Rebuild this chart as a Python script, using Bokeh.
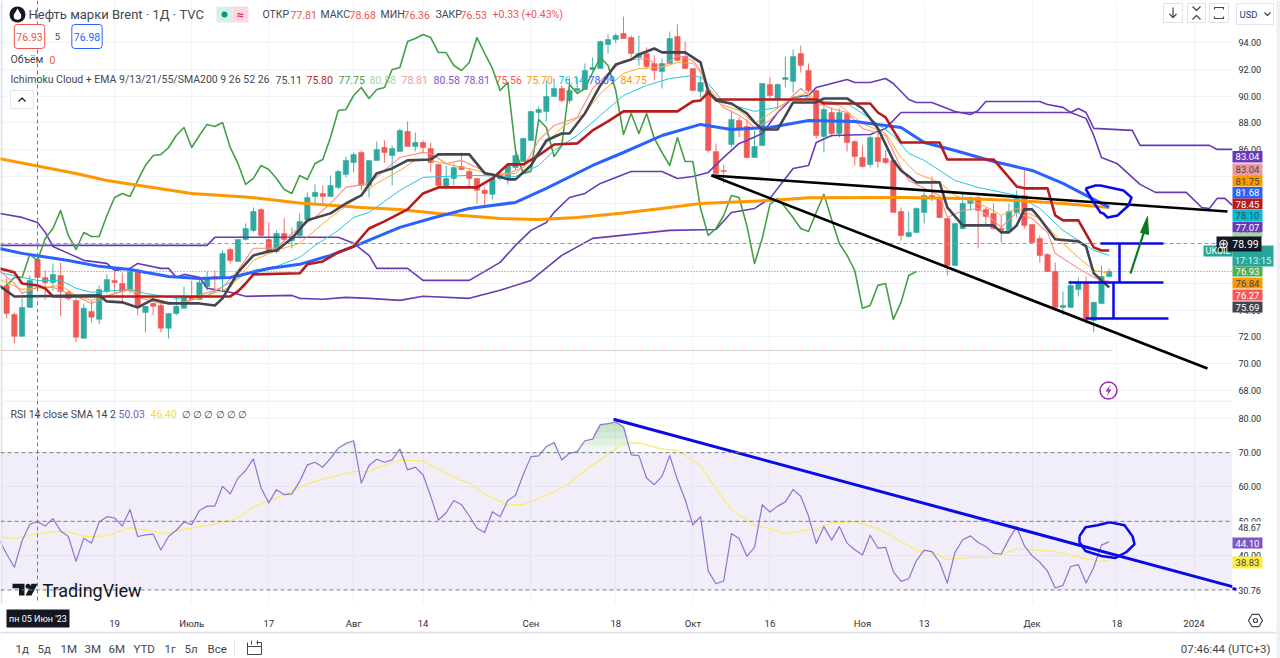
import numpy as np
from bokeh.plotting import figure
from bokeh.layouts import column
from bokeh.models import Range1d, FixedTicker, NumeralTickFormatter, Label, Span
from bokeh.embed import file_html
from bokeh.resources import INLINE

# ---------- candles (first bar is index -4, index 0 = 05 Jun 2023) ----------
opens = [75.84,73.68,72.04,74.2,77.79,76.44,76.06,76.59,75.31,74.72,71.89,73.9,73.31,75.39,76.21,75.99,75.46,76.89,73.83,74.5,74.35,72.64,73.75,74.13,75.02,74.79,75.76,76.51,76.44,78.53,77.64,79.28,79.95,81.52,79.28,78.38,79.73,79.2,79.58,80.78,82.5,82.72,82.5,83.17,84.14,85.03,85.78,83.32,85.18,86.15,85.56,85.86,87.35,86.23,86.53,86.08,84.88,83.24,83.84,84.73,84.36,83.84,82.95,82.65,83.84,83.76,84.66,85.11,86.68,88.77,88.84,89.96,90.56,89.67,90.41,90.49,91.98,92.06,93.85,94.22,94.67,94.37,92.88,93.18,92.43,91.83,92.43,94.45,92.95,92.06,90.34,90.41,85.86,84.44,86.38,88.17,87.72,85.41,86.3,90.86,89.82,91.24,91.09,93.18,91.91,90.41,86.98,88.77,87.2,88.7,86.6,85.41,84.88,86.9,85.33,85.18,81.37,79.5,79.8,81.3,82.57,82.42,80.85,77.34,80.1,81.97,82.42,81.52,81.22,80.1,79.95,81.3,82.57,80.4,79.35,78.16,76.89,74.2,74.2,75.54,75.99,73.23,74.5,76.51]
highs = [76.36,73.83,74.87,76.59,77.94,76.96,77.49,77.56,75.46,74.87,74.5,74.72,75.84,76.66,76.89,76.81,77.11,77.11,74.28,74.58,74.5,73.75,74.94,75.76,76.21,76.29,76.89,76.96,78.46,78.69,79.28,80.48,81.67,81.6,80.56,79.95,80.85,80.18,81.22,82.8,83.39,83.32,84.06,84.51,85.48,85.78,85.93,85.18,86.6,86.68,86.3,87.57,88.1,87.27,86.68,86.53,84.96,84.81,84.96,85.78,84.58,83.84,83.17,83.91,84.36,84.96,85.93,86.9,88.92,89.22,91.16,91.31,90.79,91.38,91.38,92.43,92.88,94.15,94.6,94.67,95.94,94.52,94.52,93.63,93.03,92.81,94.82,95.35,94.07,92.06,91.53,90.41,86.45,84.88,88.92,88.4,88.25,87.42,90.94,91.38,90.94,92.95,93.48,93.78,92.43,90.49,89.22,89.14,89.07,88.7,86.68,86.3,87.05,87.2,85.93,85.18,81.67,81.37,81.67,82.8,83.99,82.57,80.85,80.48,82.8,82.5,82.5,81.67,81.97,81.07,81.97,82.95,84.44,80.4,79.58,78.24,77.56,75.39,76.21,76.44,76.51,74.58,77.34,77.11]
lows = [73.38,71.52,72.04,74.2,75.76,74.79,75.46,73.53,74.72,71.59,71.89,73.09,72.94,75.24,75.31,74.64,75.24,73.61,72.34,73.61,72.34,71.89,73.61,74.13,74.72,74.79,75.46,75.31,75.31,77.49,77.64,79.2,79.8,79.43,78.31,78.24,79.05,78.61,79.35,80.78,81.97,81.97,82.5,83.02,83.91,84.29,82.95,82.42,85.18,85.03,83.32,85.86,86.23,85.86,85.71,84.29,83.32,83.24,83.32,84.44,83.24,81.97,81.67,82.27,83.69,83.39,84.44,85.11,86.68,88.17,88.1,89.96,89.52,89.44,90.19,90.49,91.91,92.06,93.18,93.93,94.3,92.88,92.28,92.06,91.16,90.56,92.43,92.66,92.06,90.41,89.89,85.78,83.91,83.47,86.15,86.9,85.33,85.41,86.3,89.82,89.14,90.64,90.26,91.76,90.26,86.83,85.78,86.9,86.9,85.86,84.81,84.66,84.66,84.66,84.88,81.3,79.2,79.43,79.8,80.48,82.12,80.85,76.59,77.34,80.03,81.45,78.61,80.33,80.03,79.05,79.95,80.92,80.1,78.98,77.56,76.89,74.2,73.61,74.2,75.02,73.01,72.34,74.5,76.44]
closes = [73.75,72.04,74.2,76.21,76.44,76.06,76.66,75.39,74.87,71.97,74.13,73.46,75.54,76.29,76.06,75.39,76.89,74.2,74.28,74.28,72.64,73.75,74.28,75.02,74.79,76.06,76.44,76.44,78.24,77.71,79.28,80.1,81.37,79.58,78.38,79.73,79.28,79.43,80.63,82.42,82.8,82.5,83.32,84.36,85.18,85.63,83.32,85.18,86.0,85.78,86.08,87.42,86.23,86.53,86.15,85.03,83.32,83.84,84.66,84.51,83.84,82.95,82.72,83.84,84.06,84.81,85.56,86.83,88.84,88.99,89.96,90.56,89.67,90.41,90.56,91.91,92.13,94.07,94.22,94.52,94.3,93.18,93.18,92.21,91.91,92.43,94.3,92.66,92.06,90.41,91.01,85.93,84.21,84.36,88.25,87.57,85.41,86.23,90.94,90.04,90.86,91.38,92.95,92.28,90.41,87.05,88.99,87.2,88.77,86.53,85.48,84.73,86.9,85.11,85.03,81.3,79.58,79.8,81.6,82.57,82.42,80.92,77.34,80.48,81.97,82.42,81.45,81.0,80.1,79.95,81.37,82.57,80.33,79.05,78.09,76.89,74.2,74.35,75.84,75.99,73.38,74.58,76.51,76.89]

# ---------- Ichimoku and moving averages: (bar index, price) ----------
tenkan_idx = [-5,-3,8,9,11,13,15,17,21,23,24,25,26,28,30,31,33,35,38,40,42,44,46,48,51,52,56,58,59,61,62,64,66,68,69,71,73,75,77,78,80,81,84,86,87,88,90,92,93,94,96,98,101,102,105,107,109,111,112,114,117,118,120,124,125,126,127,128,129,130,132,135,136,137,138,139]
tenkan = [75.85,75.02,75.1,74.65,74.58,74.2,74.8,74.5,74.5,74.35,74.88,75.85,76.82,78.09,78.39,78.46,79.36,80.71,81.23,81.97,82.57,84.22,84.59,85.19,85.26,85.64,85.64,84.22,84.14,83.77,83.77,84.81,86.68,87.2,87.2,88.7,90.79,92.36,92.73,93.11,93.55,93.26,93.26,92.51,90.34,89.67,89.44,88.7,88.03,87.5,87.5,89.52,89.52,89.82,89.82,89.07,87.58,85.19,84.44,83.55,83.55,81.68,80.33,80.33,79.81,79.81,80.33,81.53,81.53,80.85,79.29,79.14,78.76,76.75,76.22,75.7]
kijun_idx = [-5,-3,-2,-1,0,1,2,25,26,27,28,34,35,37,39,41,43,45,47,48,50,52,57,59,61,63,65,67,70,72,74,76,83,85,86,87,88,101,102,108,109,110,111,112,117,118,124,125,127,128,131,132,133,135,137,138,139]
kijun = [77.12,76.82,75.99,75.92,75.85,75.62,75.02,75.02,75.4,75.99,76.67,76.75,77.42,77.64,78.31,78.76,80.1,80.63,81.23,81.53,82.72,83.17,83.17,83.84,84.89,84.89,85.56,86.38,86.46,87.43,88.1,88.85,88.85,89.6,89.67,90.27,89.74,89.74,89.44,89.44,88.77,88.4,87.43,86.53,86.53,85.26,85.26,84.59,83.24,83.1,83.1,81.08,80.71,80.71,78.69,78.45,78.45]
chikou_start = -4
chikou = [75.85,76.44,76.44,78.16,77.71,79.35,80.1,81.45,79.58,78.53,79.8,79.5,79.5,81.07,82.42,82.72,82.5,83.69,84.81,85.56,85.63,86.15,87.05,87.65,86.15,87.05,87.88,87.72,88.02,86.15,84.96,83.39,83.84,84.81,84.51,83.84,83.02,82.72,84.06,83.76,84.96,85.26,86.9,88.92,88.99,90.04,90.64,89.82,90.49,90.64,91.98,92.13,94.07,94.3,94.6,94.37,93.25,93.25,92.28,91.91,92.51,94.37,93.18,92.06,90.41,91.01,85.93,84.21,84.36,88.25,87.65,85.48,86.3,90.86,90.19,90.56,91.76,92.88,92.28,90.41,87.13,88.7,87.2,88.7,86.83,85.78,84.81,86.9,85.11,85.11,81.6,79.58,80.1,81.07,82.57,82.42,80.33,77.49,79.35,81.9,82.35,81.67,80.92,80.1,79.88,81.3,82.65,80.78,78.98,78.09,76.96,74.13,74.35,75.85,75.99,73.31,74.58,76.59,76.89]
senkou_a_idx = [-5,-2,0,1,2,4,6,9,10,12,13,16,17,18,19,21,22,25,27,33,34,37,40,43,47,50,56,60,64,68,72,82,88,90,93,95,98,100,101,103,108,110,112,134,136,137,138,140,143,145,149,151,152,153,154,155]
senkou_a = [81.23,80.93,80.55,79.81,78.76,78.24,77.72,77.49,76.97,77.12,77.49,77.12,77.12,76.45,76.67,76.45,75.63,75.33,75.03,75.1,74.88,74.81,74.95,74.88,74.73,75.03,74.88,75.48,76.22,78.09,79.36,79.96,80.03,81.3,81.6,82.35,84.59,84.81,86.53,87.05,87.13,87.58,88.77,88.77,88.33,87.05,85.41,84.96,83.4,82.8,82.8,81.67,81.6,82.35,82.35,81.83]
senkou_b_idx = [-5,22,23,39,41,43,44,48,50,56,60,62,64,66,67,69,71,73,75,77,81,83,85,87,89,91,92,94,96,98,100,101,103,105,106,108,110,111,113,114,116,119,121,122,123,130,131,133,134,135,136,137,142,143,152,153,155]
senkou_b = [78.84,78.84,79.44,79.44,78.99,78.09,77.12,77.12,76.22,76.22,77.57,78.84,79.96,80.55,81.3,82.42,82.72,83.47,83.92,84.36,84.36,83.84,83.99,84.29,85.41,86.46,86.68,87.2,88.77,89.89,90.04,90.64,90.94,91.24,91.01,91.01,91.31,90.94,89.74,89.52,89.52,88.85,88.62,88.92,89.59,89.59,89.37,89.15,88.77,89.07,88.77,87.58,87.43,86.31,86.31,86.01,86.01]
ema9_idx = [-5,-3,-2,0,2,3,5,7,10,12,13,16,19,21,24,26,28,31,33,36,38,40,43,45,47,50,51,53,55,57,59,61,63,65,67,70,72,74,76,79,81,83,85,86,87,89,91,92,93,95,98,99,101,103,105,107,110,112,113,115,117,118,120,122,124,125,127,129,131,132,135,137,138,139]
ema9 = [76.97,76.0,75.25,75.7,75.7,75.48,75.03,74.5,75.25,75.55,74.95,74.5,74.5,75.1,75.7,76.97,78.62,78.62,79.74,80.93,81.97,83.17,83.47,84.44,85.41,85.79,85.71,84.96,85.19,84.66,84.07,84.22,84.66,86.68,87.8,88.4,90.57,91.69,92.66,92.81,92.14,93.03,92.66,91.91,90.27,89.15,88.55,88.18,87.58,88.18,90.04,90.57,89.52,89.07,88.77,87.58,87.05,84.66,83.69,83.1,82.57,80.93,81.45,81.6,80.71,80.18,81.3,80.85,79.81,78.24,77.12,76.45,76.22,76.15]
ema13_idx = [-5,-2,1,3,5,7,10,12,14,18,21,25,28,31,34,36,38,41,44,47,49,51,54,57,59,62,63,66,68,71,73,76,78,81,83,85,86,87,89,91,93,95,98,100,101,104,107,110,112,114,117,119,122,124,125,127,130,133,135,137,139]
ema13 = [76.3,75.55,75.7,75.85,75.1,74.73,75.25,75.55,74.95,74.5,74.88,75.7,77.72,78.47,78.99,79.96,80.93,82.2,83.47,84.44,85.19,85.19,84.81,84.44,84.07,84.22,84.66,86.46,87.65,88.7,90.19,91.69,92.06,92.14,92.51,92.44,91.76,90.64,89.3,88.92,87.95,88.7,89.89,90.27,89.67,89.3,87.95,87.2,85.41,84.22,83.55,82.57,81.97,81.45,81.08,81.6,80.85,78.99,77.94,76.97,76.75]
ema21_idx = [-5,-2,0,3,5,7,12,14,18,22,25,28,31,34,36,39,41,43,47,50,56,62,65,67,70,73,76,79,82,85,86,87,89,93,96,99,101,105,108,111,113,115,119,122,127,130,133,135,137,139]
ema21 = [76.82,76.45,76.22,76.22,75.63,75.33,75.55,75.25,74.88,75.1,76.07,76.97,77.27,77.94,78.84,79.96,80.93,81.3,82.95,83.92,84.07,83.99,84.81,85.93,87.05,88.55,90.04,90.79,91.31,91.54,91.39,90.94,89.52,88.85,89.15,90.04,89.67,89.44,88.33,87.05,85.71,85.19,83.69,83.17,82.57,81.6,79.96,79.21,78.47,78.09]
ema55_idx = [-5,-2,4,8,12,17,21,25,30,34,38,42,47,51,56,62,66,72,76,81,86,90,95,100,106,112,115,119,124,129,133,136,139]
ema55 = [78.61,78.24,77.71,77.27,77.04,76.51,76.36,76.44,77.11,77.42,78.09,78.98,80.18,80.85,81.6,82.05,83.1,84.81,85.78,87.05,87.88,87.5,87.65,88.17,88.1,87.65,86.53,85.93,85.11,84.44,83.47,82.57,81.68]
sma200_idx = [-5,5,9,20,27,34,42,47,52,60,65,70,76,82,86,95,100,112,120,127,133,139]
sma200 = [85.33,84.21,83.69,82.72,82.46,82.01,81.67,81.52,81.22,80.85,80.78,80.92,81.26,81.67,81.97,82.2,82.39,82.42,82.35,82.2,81.97,81.67]

# ---------- RSI pane ----------
rsi_start = -5
rsi = [44.81,40.48,36.63,44.33,49.13,49.9,48.65,50.77,47.21,45.58,38.37,45.1,43.65,49.81,51.35,50.96,48.65,53.46,45.58,46.06,46.25,41.63,45.58,47.4,49.81,49.04,53.17,54.42,54.42,60.19,57.98,62.6,64.81,68.17,59.71,55.38,59.23,57.79,57.98,61.63,66.44,67.21,65.77,68.36,71.25,72.69,73.46,61.15,66.25,68.07,67.21,67.88,71.06,65.0,65.77,63.56,57.31,50.38,52.5,56.06,54.81,51.54,47.98,46.73,52.79,51.35,56.06,57.6,63.56,68.84,69.04,71.73,72.98,67.88,69.81,70.29,73.46,73.94,78.17,78.46,78.94,77.5,69.33,69.13,62.6,60.67,63.08,69.13,62.11,56.35,48.94,51.35,35.48,31.83,32.6,46.44,45.0,39.81,42.4,54.81,52.69,54.42,55.67,59.23,57.31,51.54,43.56,48.46,44.52,48.46,43.65,41.73,40.19,45.96,42.21,42.4,35.38,32.5,33.27,38.56,41.63,41.15,38.08,32.02,40.96,44.62,45.77,43.84,42.69,40.67,40.48,44.81,48.37,42.88,40.0,38.08,35.48,30.58,31.35,36.83,37.4,32.02,36.63,43.08,44.04]
rsi_ma_idx = [-5,-3,0,2,4,6,9,12,16,17,19,22,24,26,28,30,32,35,37,41,43,44,47,50,51,55,56,58,61,63,67,69,72,76,78,81,83,85,86,89,90,93,95,97,99,101,103,106,109,113,114,116,118,121,124,127,132,134,138,139]
rsi_ma = [45.48,45.0,46.44,47.02,46.92,45.58,45.77,48.17,46.63,46.54,47.69,48.85,49.62,51.06,54.13,55.87,57.79,60.96,62.31,64.52,64.33,65.58,67.79,67.6,66.44,61.83,61.15,57.98,54.71,54.9,58.46,61.15,66.44,72.69,72.88,71.06,70.58,67.88,66.15,56.35,53.46,48.85,47.88,46.44,47.21,47.69,49.62,49.9,47.88,42.88,41.44,41.15,38.85,39.52,39.52,41.92,41.25,40.0,38.27,38.75]

# ---------- axes ----------
price_ticks = [68,70,72,74,76,78,80,82,84,86,88,90,92,94]
rsi_ticks = [40,50,60,70,80]
time_ticks = [10,20,30,41,50,64,75,85,95,107,115,129,140,150]
time_labels = ["19","Июль","17","Авг","14","Сен","18","Окт","16","Ноя","13","Дек","18","2024"]
range_buttons = ["1д","5д","1М","3М","6М","YTD","1г","5л","Все"]

GREEN, RED = "#26a69a", "#ef5350"
PX0, BAR = 37.0, 7.71
FONT = "Roboto"

def X(px): return (px - PX0) / BAR
def YP(py): return 97.14 - 0.07474 * py
def YR(py): return 80 - (py - 418) / 3.467
def I(v): return v

xr = Range1d(X(0), X(1232))

def style(p):
    p.outline_line_color = None
    p.background_fill_color = "white"
    p.border_fill_color = "white"
    p.grid.grid_line_color = "#f0f3fa"
    p.yaxis.major_tick_line_color = None
    p.yaxis.minor_tick_line_color = None
    p.yaxis.major_tick_out = 0
    p.yaxis.minor_tick_out = 0
    p.yaxis.axis_line_color = None
    p.yaxis.major_label_text_font = FONT
    p.yaxis.major_label_text_font_size = "9px"
    p.yaxis.major_label_text_color = "#2a2e39"
    p.yaxis.major_label_standoff = 6

def txt(fig, xf, yf, px, py, text, color="#434651", size=10.5, align="left", weight="normal", **kw):
    fig.add_layout(Label(x=xf(px), y=yf(py), text=text, text_color=color, text_font=FONT,
                         text_font_size=f"{size}px", text_font_style=weight, text_align=align,
                         text_baseline="middle", **kw))

# ---------- price pane ----------
p = figure(width=1280, height=400, x_range=xr, y_range=Range1d(YP(400), YP(0)),
           y_axis_location="right", toolbar_location=None, output_backend="svg",
           min_border_left=0, min_border_right=48, min_border_top=0, min_border_bottom=0)
style(p)
p.xaxis.visible = False
p.xgrid.ticker = FixedTicker(ticks=time_ticks)
p.yaxis.ticker = FixedTicker(ticks=price_ticks)
p.ygrid.ticker = FixedTicker(ticks=price_ticks)
p.yaxis.formatter = NumeralTickFormatter(format="0.00")

bars = list(range(-4, 140))
colors = [GREEN if c >= o else RED for o, c in zip(opens, closes)]
p.quad(left=[X(0)], right=[X(2)], bottom=[YP(400)], top=[YP(0)], fill_color="#e0e3eb", line_color=None)
p.segment(bars, lows, bars, highs, color=colors, line_width=1, alpha=0.85)
p.vbar(bars, width=0.7, bottom=opens, top=closes, fill_color=colors, line_color=colors, line_width=0.5, alpha=0.95)

def ln(idx, vals, color, w):
    p.line(idx, vals, line_color=color, line_width=w, line_join="round")

ln(senkou_a_idx, senkou_a, "#673ab7", 1.6)
ln(senkou_b_idx, senkou_b, "#673ab7", 1.6)
ln(list(range(chikou_start, chikou_start + len(chikou))), chikou, "#43a047", 1.6)
ln(ema21_idx, ema21, "#26c6da", 1)
ln(ema13_idx, ema13, "#ffa726", 1)
ln(ema9_idx, ema9, "#ff8a80", 1.1)
ln(sma200_idx, sma200, "#ff9800", 3)
ln(ema55_idx, ema55, "#2962ff", 3)
ln(kijun_idx, kijun, "#b71c1c", 2.6)
ln(tenkan_idx, tenkan, "#434651", 2.6)

# level lines
p.line([X(0), X(1216)], [YP(243)] * 2, line_color="#9598a1", line_dash="4 3", line_width=1)
p.line([X(0), X(1232)], [YP(271)] * 2, line_color="#26a69a", line_dash="1 2", line_width=1)
p.line([X(0), X(1112)], [YP(350)] * 2, line_color="#f8bbbb", line_dash="5 5", line_width=1)
p.line([X(0), X(1112)], [YP(350)] * 2, line_color="#b2dfdb", line_dash="5 5", line_dash_offset=5, line_width=1)
p.add_layout(Span(location=0, dimension="height", line_color="#787b86", line_dash="4 3", line_width=1))

# hand drawings
def draw(pts, color, w, fig=None, xf=X, yf=YP):
    (fig or p).line([xf(a) for a, _ in pts], [yf(b) for _, b in pts], line_color=color, line_width=w, line_join="round")

BLACK, BLUE = "#000000", "#0a0ae6"
draw([(711, 175), (1227, 211)], BLACK, 2.6)
draw([(711, 175), (1207, 368)], BLACK, 2.6)
draw([(1100, 243), (1163, 243)], BLUE, 2.5)
draw([(1119, 243), (1119, 282)], BLUE, 2.5)
draw([(1068, 282), (1163, 282)], BLUE, 2.5)
draw([(1113, 282), (1113, 318)], BLUE, 2.5)
draw([(1085, 318), (1168, 318)], BLUE, 2.5)
draw([(1085, 188), (1095, 185), (1100, 185), (1123, 190), (1131, 197), (1128, 205), (1117, 215), (1107, 217), (1103, 213), (1100, 212), (1092, 200), (1085, 188)], BLUE, 2.5)
draw([(1130, 273), (1144, 230)], "#0b7a1e", 2.2)
p.patch([X(1147), X(1140), X(1148)], [YP(216), YP(232), YP(234)], fill_color="#0b7a1e", line_color="#0b7a1e")

# lightning mark
p.scatter([X(1108)], [YP(390)], size=17, marker="circle", fill_color="white", line_color="#9c27b0", line_width=1.5)
p.patch([X(1110), X(1105), X(1108), X(1106), X(1111), X(1108)], [YP(384), YP(391), YP(391), YP(396), YP(389), YP(389)],
        fill_color="#9c27b0", line_color=None)

# header
p.scatter([X(17)], [YP(14)], size=16, marker="circle", fill_color="#131722", line_color=None)
p.scatter([X(17)], [YP(15.5)], size=7.5, marker="circle", fill_color="white", line_color=None)
p.scatter([X(17)], [YP(11.5)], size=6, marker="triangle", fill_color="white", line_color=None)
txt(p, X, YP, 28, 14, "Нефть марки Brent · 1Д · TVC", size=13)
p.quad(left=[X(216)], right=[X(232)], bottom=[YP(22)], top=[YP(6)], fill_color="#d5f0ea", line_color=None)
p.quad(left=[X(232)], right=[X(248)], bottom=[YP(22)], top=[YP(6)], fill_color="#fbd9e2", line_color=None)
p.scatter([X(224)], [YP(14)], size=6, marker="circle", fill_color="#089981", line_color=None)
txt(p, X, YP, 240, 14, "≈", color="#e91e63", size=12, align="center", weight="bold")
for px_, s_, c_ in [(262, "ОТКР", "#434651"), (290, "77.81", RED), (320, "МАКС", "#434651"), (349, "78.68", RED),
                    (380, "МИН", "#434651"), (403, "76.36", RED), (435, "ЗАКР", "#434651"), (460, "76.53", RED),
                    (492, "+0.33 (+0.43%)", RED)]:
    txt(p, X, YP, px_, 14, s_, color=c_, size=10.5)
txt(p, X, YP, 29, 36, "76.93", color=RED, size=10.5, align="center", background_fill_color="white",
    border_line_color=RED, border_line_width=1, padding=(2, 8), border_radius=3)
txt(p, X, YP, 57, 36, "5", size=9.5, align="center")
txt(p, X, YP, 86.5, 36, "76.98", color="#2962ff", size=10.5, align="center", background_fill_color="white",
    border_line_color="#2962ff", border_line_width=1, padding=(2, 8), border_radius=3)
txt(p, X, YP, 10, 59, "Объём", size=10.5)
txt(p, X, YP, 49, 59, "0", color=RED, size=10.5)
txt(p, X, YP, 10, 79, "Ichimoku Cloud + EMA 9/13/21/55/SMA200 9 26 52 26", size=10.5)
for px_, s_, c_ in [(275, "75.11", "#434651"), (306, "75.80", "#b71c1c"), (338, "77.75", "#43a047"), (369, "80.58", "#a5d6a7"),
                    (401, "78.81", "#ef9a9a"), (433, "80.58", "#7e57c2"), (463, "78.81", "#7e57c2"), (495, "75.56", "#ff5252"),
                    (526, "75.70", "#ff9800"), (558, "76.14", "#00bcd4"), (588, "78.09", "#2962ff"), (620, "84.75", "#ff9800")]:
    txt(p, X, YP, px_, 79, s_, color=c_, size=10.5)
p.quad(left=[X(10)], right=[X(33)], bottom=[YP(108)], top=[YP(90)], fill_color="white", line_color="#e0e3eb")
draw([(18, 101), (21.5, 97.5), (25, 101)], "#131722", 1.2)

# top-right buttons
for a, b_ in [(1163, 1182), (1187, 1205), (1209, 1228)]:
    p.quad(left=[X(a)], right=[X(b_)], bottom=[YP(22)], top=[YP(3)], fill_color="white", line_color="#e0e3eb")
draw([(1172.5, 7), (1172.5, 17)], "#434651", 1.2)
draw([(1169, 13.5), (1172.5, 17), (1176, 13.5)], "#434651", 1.2)
draw([(1192, 6), (1196, 10), (1200, 6)], "#434651", 1.2)
draw([(1192, 19), (1196, 15), (1200, 19)], "#434651", 1.2)
draw([(1214, 9), (1214, 7), (1223, 7), (1223, 9)], "#434651", 1.2)
draw([(1214, 16), (1214, 18), (1223, 18), (1223, 16)], "#434651", 1.2)

# ---------- RSI pane ----------
r = figure(width=1280, height=231, x_range=xr, y_range=Range1d(YR(605), YR(400)),
           y_axis_location="right", toolbar_location=None, output_backend="svg",
           min_border_left=0, min_border_right=48, min_border_top=0, min_border_bottom=26)
style(r)
r.yaxis.ticker = FixedTicker(ticks=rsi_ticks)
r.ygrid.ticker = FixedTicker(ticks=rsi_ticks)
r.yaxis.formatter = NumeralTickFormatter(format="0.00")
r.xaxis.ticker = FixedTicker(ticks=time_ticks)
r.xgrid.ticker = FixedTicker(ticks=time_ticks)
r.xaxis.major_label_overrides = dict(zip(time_ticks, time_labels))
r.xaxis.major_tick_line_color = None
r.xaxis.minor_tick_line_color = None
r.xaxis.major_tick_out = 0
r.xaxis.minor_tick_out = 0
r.xaxis.axis_line_color = None
r.xaxis.major_label_text_font = FONT
r.xaxis.major_label_text_font_size = "9.5px"
r.xaxis.major_label_text_color = "#2a2e39"
r.xaxis.major_label_standoff = 14

rsi_x = np.arange(rsi_start, rsi_start + len(rsi))
rsi_arr = np.array(rsi)
r.quad(left=[X(0)], right=[X(1232)], bottom=[30], top=[70], fill_color="#7e57c2", fill_alpha=0.1, line_color=None)
for level in (70, 72, 74, 76, 78):
    r.varea(rsi_x, y1=np.full(len(rsi), float(level)), y2=np.maximum(rsi_arr, level), fill_color="#66bb6a", fill_alpha=0.1)
for lv in (70, 50, 30):
    r.add_layout(Span(location=lv, dimension="width", line_color="#787b86", line_dash="4 3", line_width=1))
r.add_layout(Span(location=0, dimension="height", line_color="#787b86", line_dash="4 3", line_width=1))
r.line(rsi_ma_idx, rsi_ma, line_color="#fdeb71", line_width=1.3)
r.line(rsi_x, rsi, line_color="#8f75cf", line_width=1.2, line_join="round")
draw([(613, 419), (1232, 588)], BLUE, 3, fig=r, yf=YR)
draw([(1079, 537), (1085, 528), (1097, 526), (1109, 523), (1124, 526), (1132, 537), (1134, 545), (1126, 553), (1115, 559), (1101, 557), (1085, 552), (1079, 543), (1079, 537)], BLUE, 2.5, fig=r, yf=YR)
r.line([X(0), X(1232)], [YR(400.5)] * 2, line_color="#e0e3eb", line_width=1)
r.quad(left=[X(0)], right=[X(2)], bottom=[YR(605)], top=[YR(400)], fill_color="#e0e3eb", line_color=None)

txt(r, X, YR, 10, 414, "RSI 14 close SMA 14 2", size=10.5)
txt(r, X, YR, 118, 414, "50.03", color="#7e57c2", size=10.5)
txt(r, X, YR, 150, 414, "46.40", color="#fdd835", size=10.5)
txt(r, X, YR, 181, 414, "∅ ∅ ∅ ∅ ∅ ∅", size=9.5)

# TradingView mark
r.patch([X(a) for a in (12, 24, 24, 18.5, 18.5, 15, 15, 12)], [YR(b_) for b_ in (585, 585, 597, 597, 589.5, 589.5, 589.5, 589.5)], fill_color="#131722", line_color=None)
r.patch([X(a) for a in (31, 37, 31, 25)], [YR(b_) for b_ in (585, 585, 597, 597)], fill_color="#131722", line_color=None)
r.scatter([X(27.5)], [YR(587.5)], size=5, marker="circle", fill_color="#131722", line_color=None)
txt(r, X, YR, 42, 592, "TradingView", color="#131722", size=18)

# ---------- bottom strip ----------
b = figure(width=1280, height=27, x_range=Range1d(0, 1280), y_range=Range1d(658, 631),
           x_axis_type=None, y_axis_type=None, toolbar_location=None, output_backend="svg",
           min_border=0, frame_align=False)
b.outline_line_color = None
b.grid.visible = False
b.background_fill_color = "white"
b.line([0, 1280], [632, 632], line_color="#e0e3eb", line_width=2)
b.line([234, 234], [640, 656], line_color="#e0e3eb", line_width=1)
for px_, s_ in zip([15, 37, 60, 84, 108, 133, 164, 184, 207], range_buttons):
    b.add_layout(Label(x=px_, y=648, text=s_, text_color="#434651", text_font=FONT, text_font_size="11.5px", text_baseline="middle"))
b.line([247, 247, 261, 261, 256], [642, 654, 654, 642, 642], line_color="#434651", line_width=1)
b.line([247, 261], [646, 646], line_color="#434651", line_width=1)
b.line([251, 251], [640, 644], line_color="#434651", line_width=1)
b.line([257, 257], [640, 644], line_color="#434651", line_width=1)
b.add_layout(Label(x=1270, y=648, text="07:46:44 (UTC+3)", text_color="#434651", text_font=FONT, text_font_size="11.5px",
                   text_align="right", text_baseline="middle"))

# ---------- transparent layer over the scales: price badges and scale markers ----------
o = figure(width=1280, height=658, x_range=Range1d(0, 1280), y_range=Range1d(658, 0),
           x_axis_type=None, y_axis_type=None, toolbar_location=None, output_backend="svg",
           min_border=0, background_fill_color=None, border_fill_color=None, frame_align=False,
           styles={"position": "absolute", "left": "0px", "top": "0px", "pointer-events": "none"})
o.outline_line_color = None
o.grid.visible = False

def box(x0, x1, y0, y1, fill, line=None):
    o.quad(left=[x0], right=[x1], top=[y0], bottom=[y1], fill_color=fill, line_color=line)

def otext(px, py, s, color="#434651", size=9.5, align="center"):
    txt(o, I, I, px, py, s, color=color, size=size, align=align)

box(1276, 1280, 0, 658, "#eef0f5")
box(1236, 1273, 3, 24, "white", "#e0e3eb")
otext(1239, 13.5, "USD", color="#1e3a8a", align="left")
o.line([1264, 1267, 1270], [12, 15, 12], line_color="#434651", line_width=1.2)
draw([(1232, 588), (1241, 590)], BLUE, 3, fig=o, xf=I, yf=I)

for y0, y1, s_, bg, fg in [(150.5, 162, "83.04", "#673ab7", "white"), (163, 175, "83.04", "#ef9a9a", "#434651"),
                           (175, 186, "81.75", "#ff9800", "#434651"), (186.5, 198, "81.68", "#2962ff", "white"),
                           (198, 209, "78.45", "#b71c1c", "white"), (209.5, 220.5, "78.10", "#00bcd4", "#434651"),
                           (221, 232, "77.07", "#673ab7", "white"), (266, 276, "76.93", "#4caf50", "white"),
                           (277, 288, "76.84", "#ff9800", "#434651"), (289, 300, "76.27", "#ff5252", "white"),
                           (301, 312, "75.69", "#434651", "white")]:
    box(1232, 1262, y0, y1, bg)
    otext(1247, (y0 + y1) / 2, s_, color=fg)
box(1232, 1262, 232, 237, "#a5d6a7")
box(1203, 1232, 245, 256, GREEN)
otext(1217.5, 250.5, "UKOIL", color="white", size=9)
box(1232, 1273, 245, 266, GREEN)
otext(1252.5, 260, "17:13:15", color="#d8f3ef", size=9.5)
box(1216, 1261, 236, 251, "#131722")
otext(1223, 243, "⊕", color="white", size=13)
otext(1245, 243.5, "78.99", color="white", size=10.5)

box(1232, 1262, 521, 533, "white")
otext(1249, 527, "48.67", color="#2a2e39", size=9)
box(1232, 1262, 537, 548, "#7e57c2")
otext(1247, 542.5, "44.10", color="white")
box(1232, 1262, 556, 568, "#ffeb3b")
otext(1247, 562, "38.83", color="#434651")
box(1236, 1262, 584, 596, "white")
otext(1249, 590, "30.76", color="#2a2e39", size=9)

box(6, 69, 609, 627, "#131722")
otext(37.5, 618, "пн 05 Июн '23", color="white", size=9)
o.scatter([1255], [620], size=14, marker="hex", fill_color=None, line_color="#434651", line_width=1.2)
o.scatter([1255], [620], size=4, marker="circle", fill_color=None, line_color="#434651", line_width=1.2)

root = column(p, r, b, o, spacing=0)
html = file_html(root, INLINE)
html = html.replace("</head>", "<style>html,body{margin:0!important;padding:0!important;overflow:hidden;background:white}</style></head>")
open("out.html", "w", encoding="utf-8").write(html)
